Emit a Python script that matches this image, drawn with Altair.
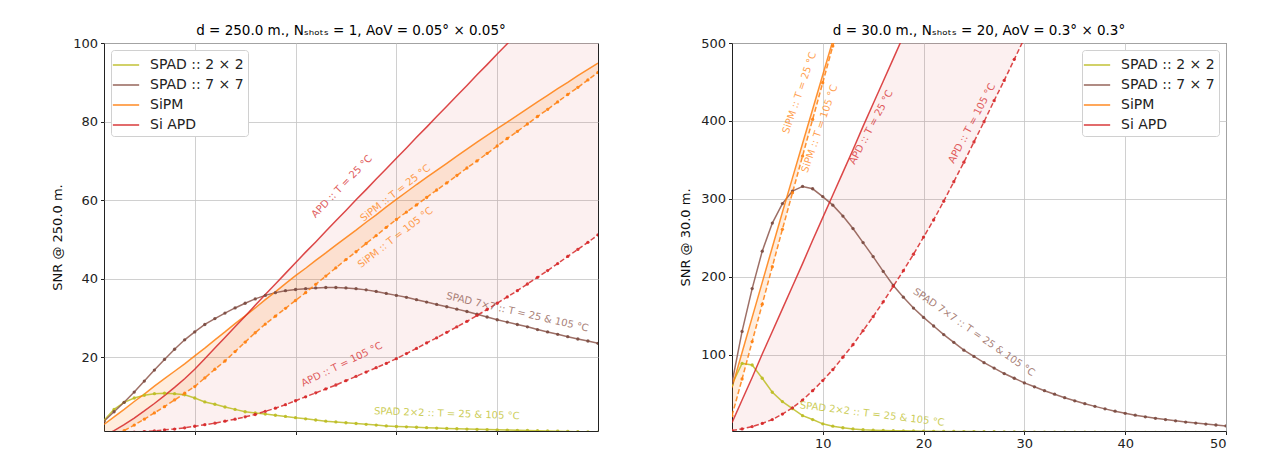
import altair as alt
import pandas as pd

X = list(range(1, 51))

FAM = ["SPAD :: 2 × 2", "SPAD :: 7 × 7", "SiPM", "Si APD"]
COL = ["#bcbd22", "#8c564b", "#ff7f0e", "#d62728"]

# ---------------- Left panel: d = 250 m ----------------
L_spad2 = [4.0, 6.8, 8.6, 9.7, 10.4, 10.8, 10.9, 10.8, 10.5, 9.7, 8.7, 8.1, 7.4, 6.8, 6.2, 5.9, 5.6, 5.3, 5.0, 4.7,
           4.4, 4.1, 3.8, 3.6, 3.4, 3.2, 3.0, 2.8, 2.6, 2.45, 2.35, 2.25, 2.15, 2.05, 1.95, 1.87, 1.8, 1.72, 1.66, 1.6,
           1.54, 1.48, 1.42, 1.36, 1.3, 1.24, 1.18, 1.12, 1.06, 1.0]
L_spad7 = [3.8, 6.2, 8.6, 11.2, 14.0, 16.8, 19.5, 22.1, 24.5, 26.5, 28.4, 29.9, 31.3, 32.6, 33.8, 34.9, 35.8, 36.5, 37.0, 37.3,
           37.5, 37.7, 37.8, 37.8, 37.7, 37.5, 37.2, 36.8, 36.3, 35.8, 35.3, 34.7, 34.1, 33.5, 32.9, 32.3, 31.7, 31.0, 30.3, 29.6,
           29.0, 28.4, 27.8, 27.1, 26.5, 25.9, 25.3, 24.7, 24.2, 23.6]
L_sipm25 = [3.0, 4.9, 6.8, 8.8, 10.7, 12.7, 14.6, 16.5, 18.4, 20.4, 22.4, 24.5, 26.5, 28.6, 30.6, 32.6, 34.7, 36.7, 38.8, 40.8,
            42.7, 44.7, 46.6, 48.6, 50.5, 52.4, 54.4, 56.3, 58.3, 60.2, 62.1, 64.0, 65.8, 67.6, 69.4, 71.2, 73.0, 74.8, 76.5, 78.2,
            79.9, 81.6, 83.3, 85.0, 86.7, 88.4, 90.0, 91.7, 93.3, 94.9]
L_sipm105 = [-1.0, 0.2, 1.4, 2.8, 4.3, 5.9, 7.5, 9.2, 10.9, 12.6, 14.8, 17.0, 19.1, 21.5, 23.9, 26.3, 28.5, 30.5, 32.5, 34.5,
             36.5, 38.6, 40.7, 42.8, 44.9, 46.9, 49.0, 51.0, 53.1, 55.1, 57.0, 58.8, 60.7, 62.6, 64.4, 66.3, 68.2, 70.0, 71.9, 73.8,
             75.7, 77.5, 79.4, 81.3, 83.1, 85.0, 86.9, 88.7, 90.6, 92.5]
L_apd25 = [0.0, 1.4, 2.9, 4.6, 6.4, 8.3, 10.3, 12.4, 14.6, 17.0, 19.7, 22.4, 25.1, 27.8, 30.5, 33.3, 36.0, 38.7, 41.4, 44.1,
           46.8, 49.4, 52.1, 54.8, 57.4, 60.1, 62.7, 65.4, 68.0, 70.7, 73.3, 76.0, 78.6, 81.3, 83.9, 86.6, 89.2, 91.9, 94.5, 97.2,
           99.8, 102.5, 105.1, 107.8, 110.4, 113.1, 115.7, 118.4, 121.0, 123.7]
L_apd105 = [0.6, 0.75, 0.9, 1.0, 1.15, 1.3, 1.6, 1.8, 2.1, 2.5, 2.9, 3.3, 3.8, 4.3, 4.9, 5.5, 6.3, 7.1, 8.0, 9.0,
            10.0, 11.0, 12.0, 13.0, 14.1, 15.2, 16.3, 17.4, 18.5, 19.7, 21.0, 22.3, 23.7, 25.0, 26.4, 27.8, 29.2, 30.7, 32.2, 33.8,
            35.4, 37.0, 38.7, 40.4, 42.1, 43.9, 45.7, 47.5, 49.3, 51.2]

L_notes_text = ["APD :: T = 25 °C", "SiPM :: T = 25 °C", "SiPM :: T = 105 °C", "APD :: T = 105 °C",
                "SPAD 7×7 :: T = 25 & 105 °C", "SPAD 2×2 :: T = 25 & 105 °C"]
L_notes_x = [24.6, 29.9, 29.9, 24.6, 42.0, 35.0]
L_notes_y = [63.5, 61.8, 50.5, 18.2, 31.5, 5.7]
L_notes_angle = [314, 322, 322, 334, 13, 2]

# ---------------- Right panel: d = 30 m ----------------
R_spad2 = [62, 89, 87, 70, 52, 40, 31, 22, 17, 11.5, 8.5, 6.5, 5.0, 4.0, 3.4, 3.0, 2.7, 2.5, 2.3, 2.1,
           1.9, 1.8, 1.7, 1.6, 1.5, 1.4, 1.3, 1.2, 1.1, 1.0, 0.95, 0.9, 0.85, 0.8, 0.75, 0.7, 0.66, 0.62, 0.58, 0.55,
           0.52, 0.49, 0.46, 0.43, 0.4, 0.38, 0.36, 0.34, 0.32, 0.3]
R_spad7 = [64, 130, 185, 233, 269, 294, 310, 316, 313, 303, 292, 278, 262, 244, 226, 207, 189, 174, 160, 148,
           137, 126, 116, 106, 98, 90, 83, 76, 70, 64, 59, 54, 49.5, 45, 41, 37.3, 33.9, 30.7, 27.7, 25.0,
           22.6, 20.5, 18.6, 16.9, 15.3, 13.8, 12.5, 11.2, 10.0, 8.8]
R_sipm25 = [58, 103, 148, 193, 238, 283, 327, 371, 415, 459, 503, 547]
R_sipm105 = [22, 69, 117, 165, 213, 261, 308, 355, 402, 449, 496, 543]
R_apd25 = [13, 42, 71, 101, 130, 159, 188, 217, 247, 276, 305, 334, 363, 393, 422, 451, 480, 509, 538, 567,
           596, 626, 655, 684, 713, 742, 771, 801, 830, 859, 888]
R_apd105 = [3, 5, 8, 12, 17, 24, 32, 42, 54, 67, 81, 97, 113, 131, 149, 168, 188, 208, 229, 251,
            273, 297, 322, 347, 373, 399, 426, 452, 479, 506, 533]

R_notes_text = ["SiPM :: T = 25 °C", "SiPM :: T = 105 °C", "APD :: T = 25 °C", "APD :: T = 105 °C",
                "SPAD 7×7 :: T = 25 & 105 °C", "SPAD 2×2 :: T = 25 & 105 °C"]
R_notes_x = [7.7, 9.7, 14.8, 24.8, 25.0, 14.9]
R_notes_y = [436, 390, 392, 397, 129, 24]
R_notes_angle = [289, 289, 298, 298, 35, 7]

NOTE_COLORS_L = [COL[3], COL[2], COL[2], COL[3], COL[1], COL[0]]
NOTE_COLORS_R = [COL[2], COL[2], COL[3], COL[3], COL[1], COL[0]]

FONT = "DejaVu Sans"


def rows(xs, ys, **extra):
    return [dict(x=a, y=b, **extra) for a, b in zip(xs, ys)]


def panel(title, ytitle, ydom, yticks, xticks, xlabels, S, notes, legend_orient):
    xs = alt.X("x:Q", scale=alt.Scale(domain=[1, 50], nice=False),
               axis=alt.Axis(values=xticks, labels=xlabels, title=None, grid=True))
    ys = alt.Y("y:Q", scale=alt.Scale(domain=ydom, nice=False, zero=False),
               axis=alt.Axis(values=yticks, title=ytitle, grid=True))

    apd_band = pd.DataFrame({"x": X[:len(S["apd25"])], "y": S["apd25"], "y2": S["apd105"][:len(S["apd25"])]})
    sipm_band = pd.DataFrame({"x": X[:len(S["sipm25"])], "y": S["sipm25"], "y2": S["sipm105"][:len(S["sipm25"])]})

    a1 = alt.Chart(apd_band).mark_area(clip=True, color=COL[3], opacity=0.07).encode(
        x=xs, y=ys, y2="y2:Q")
    a2 = alt.Chart(sipm_band).mark_area(clip=True, color=COL[2], opacity=0.14).encode(
        x=xs, y=ys, y2="y2:Q")

    solid = (rows(X, S["spad2"], family=FAM[0]) + rows(X, S["spad7"], family=FAM[1]) +
             rows(X, S["sipm25"], family=FAM[2]) + rows(X, S["apd25"], family=FAM[3]))
    lines = alt.Chart(pd.DataFrame(solid)).mark_line(clip=True, strokeWidth=1.5, opacity=0.85).encode(
        x=xs, y=ys,
        color=alt.Color("family:N", sort=FAM,
                        scale=alt.Scale(domain=FAM, range=COL),
                        legend=alt.Legend(title=None, orient=legend_orient, offset=7,
                                          symbolType="M-1.35,0L1.35,0", symbolSize=380, symbolStrokeWidth=1.6,
                                          symbolOpacity=0.85,
                                          labelFont=FONT, labelFontSize=14, labelColor="#222",
                                          labelOffset=13, rowPadding=2, padding=4,
                                          fillColor="white", strokeColor="#d0d0d0", cornerRadius=3)),
        detail="family:N")

    dashed = rows(X, S["sipm105"], s="sipm105", c=COL[2]) + rows(X, S["apd105"], s="apd105", c=COL[3])
    dl = alt.Chart(pd.DataFrame(dashed)).mark_line(clip=True, strokeWidth=1.5, opacity=0.85,
                                                   strokeDash=[5, 2.5]).encode(
        x=xs, y=ys, stroke=alt.Stroke("c:N", scale=None), detail="s:N")

    pts = (rows(X, S["spad2"], s="spad2", c=COL[0]) + rows(X, S["spad7"], s="spad7", c="#7a4a40") +
           rows(X, S["sipm105"], s="sipm105", c=COL[2]) + rows(X, S["apd105"], s="apd105", c=COL[3]))
    pl = alt.Chart(pd.DataFrame(pts)).mark_circle(clip=True, size=11, opacity=0.9).encode(
        x=xs, y=ys, fill=alt.Fill("c:N", scale=None))

    nt = pd.DataFrame({"x": notes[0], "y": notes[1], "t": notes[2], "a": notes[3], "c": notes[4]})
    tl = alt.Chart(nt).mark_text(font=FONT, fontSize=10, align="center", baseline="middle", opacity=0.75).encode(
        x=xs, y=ys, text="t:N", angle=alt.Angle("a:Q", scale=None), fill=alt.Fill("c:N", scale=None))

    return alt.layer(a1, a2, lines, dl, pl, tl).properties(
        width=494, height=388,
        title=alt.TitleParams(title, font=FONT, fontSize=13.5, fontWeight="normal", color="black", offset=0))


left = panel("d = 250.0 m., Nₛₕₒₜₛ = 1, AoV = 0.05° × 0.05°", "SNR @ 250.0 m.", [1.3, 100],
             [20, 40, 60, 80, 100], [10, 20, 30, 40], False,
             dict(spad2=L_spad2, spad7=L_spad7, sipm25=L_sipm25, sipm105=L_sipm105, apd25=L_apd25, apd105=L_apd105),
             (L_notes_x, L_notes_y, L_notes_text, L_notes_angle, NOTE_COLORS_L), "top-left")

right = panel("d = 30.0 m., Nₛₕₒₜₛ = 20, AoV = 0.3° × 0.3°", "SNR @ 30.0 m.", [2.3, 500],
              [100, 200, 300, 400, 500], [10, 20, 30, 40, 50], True,
              dict(spad2=R_spad2, spad7=R_spad7, sipm25=R_sipm25, sipm105=R_sipm105, apd25=R_apd25, apd105=R_apd105),
              (R_notes_x, R_notes_y, R_notes_text, R_notes_angle, NOTE_COLORS_R), "top-right")

chart = alt.hconcat(left, right, spacing=80).resolve_scale(color="independent").properties(
    padding={"left": 43, "top": 15, "right": 5, "bottom": 5},
    background="white",
).configure_view(stroke="#222", strokeWidth=1).configure_axis(
    labelFont=FONT, labelFontSize=13, labelColor="#222", titleFont=FONT, titleFontSize=13,
    titleFontWeight="normal", titleColor="#111", tickColor="#222", tickSize=3.5, labelPadding=3,
    domain=False, gridColor="#c4c4c4", gridWidth=0.8, titlePadding=8,
)

chart.save("out.html", embed_options={"renderer": "svg", "actions": False})
